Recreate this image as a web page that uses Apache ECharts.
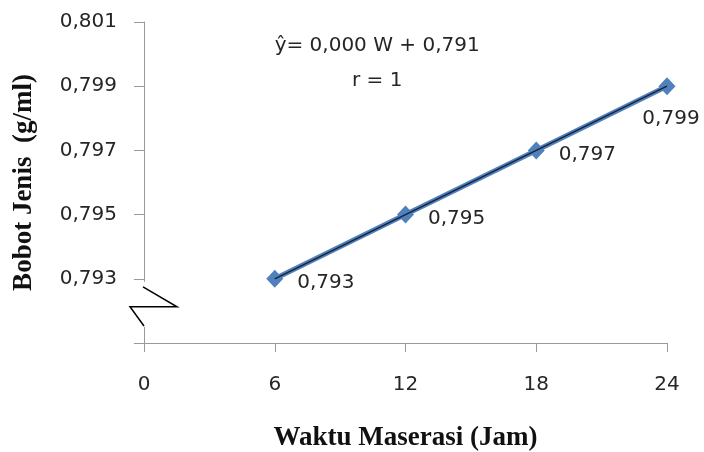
<!DOCTYPE html>
<html>
<head>
  <meta charset="utf-8">
  <title>Bobot Jenis vs Waktu Maserasi</title>
  <style type="text/css">
    html, body { margin: 0; padding: 0; background: #fff; }
    #main { width: 704px; height: 452px; }
  </style>
</head>
<body>
<div id="main"></div>
<script type="text/javascript" src="https://cdn.jsdelivr.net/npm/echarts@6/dist/echarts.min.js"></script>
<script type="text/javascript">
  // data
  var waktu = [6, 12, 18, 24];
  var bobot = [0.793, 0.795, 0.797, 0.799];
  var xTicks = [0, 6, 12, 18, 24];
  var yTicks = [0.791, 0.793, 0.795, 0.797, 0.799, 0.801];
  var yLabels = [0.793, 0.795, 0.797, 0.799, 0.801];
  var equation = ['\u0177= 0,000 W + 0,791', 'r = 1'];

  var fontSans = 'DejaVu Sans';
  var fontSerif = 'Liberation Serif';
  var textColor = '#262626';
  var axisColor = '#999';

  function koma(v) {
    return v.toFixed(3).replace('.', ',');
  }

  var points = waktu.map(function (w, i) {
    var last = i === waktu.length - 1;
    return {
      value: [w, bobot[i]],
      label: last
        ? { position: 'bottom', distance: 14, offset: [4, 0] }
        : { position: 'right', distance: 14, offset: [0, 4] }
    };
  });

  var myChart = echarts.init(document.getElementById('main'));

  var option = {
    animation: false,
    backgroundColor: '#fff',
    grid: { left: 144, right: 37, top: 22, bottom: 109, containLabel: false, outerBoundsMode: 'none' },
    xAxis: {
      type: 'value',
      min: xTicks[0],
      max: xTicks[xTicks.length - 1],
      interval: 6,
      name: 'Waktu Maserasi (Jam)',
      nameLocation: 'middle',
      nameGap: 82,
      nameTextStyle: { fontFamily: fontSerif, fontWeight: 'bold', fontSize: 27, color: '#111' },
      axisLine: { lineStyle: { color: axisColor, width: 1 } },
      axisTick: { inside: false, length: 9, lineStyle: { color: axisColor } },
      axisLabel: { fontFamily: fontSans, fontSize: 20, color: textColor, margin: 32 },
      splitLine: { show: false }
    },
    yAxis: {
      type: 'value',
      min: yTicks[0],
      max: yTicks[yTicks.length - 1],
      name: 'Bobot Jenis  (g/ml)',
      nameLocation: 'middle',
      nameGap: 106,
      nameTextStyle: { fontFamily: fontSerif, fontWeight: 'bold', fontSize: 27, color: '#111' },
      axisLine: { show: true, lineStyle: { color: axisColor, width: 1 } },
      axisTick: { show: true, length: 10, customValues: yTicks, lineStyle: { color: axisColor } },
      axisLabel: {
        fontFamily: fontSans, fontSize: 20, color: textColor, margin: 27,
        customValues: yLabels,
        formatter: function (v) { return koma(v); }
      },
      splitLine: { show: false }
    },
    series: [
      {
        name: 'Bobot Jenis',
        type: 'line',
        data: points,
        symbol: 'diamond',
        symbolSize: [17, 18],
        lineStyle: { color: '#4f81bd', width: 5 },
        itemStyle: { color: '#4f81bd' },
        label: {
          show: true,
          fontFamily: fontSans,
          fontSize: 20,
          color: textColor,
          formatter: function (p) { return koma(p.value[1]); }
        },
        z: 2
      },
      {
        name: 'Trendline',
        type: 'line',
        data: waktu.map(function (w, i) { return [w, bobot[i]]; }),
        symbol: 'none',
        lineStyle: { color: '#1b2238', width: 1.5 },
        silent: true,
        z: 3
      }
    ]
  };

  myChart.setOption(option);

  // equation box and the axis break mark
  var x0 = myChart.convertToPixel({ xAxisIndex: 0 }, 0);
  var yA = myChart.convertToPixel({ yAxisIndex: 0 }, 0.793);
  var yB = myChart.convertToPixel({ yAxisIndex: 0 }, 0.791);
  var xEq = myChart.convertToPixel({ xAxisIndex: 0 }, 10.7);

  myChart.setOption({
    graphic: [
      {
        type: 'rect',
        shape: { x: x0 - 3, y: yA + 3, width: 6, height: (yB - 16) - (yA + 3) },
        style: { fill: '#fff' },
        z: 50
      },
      {
        type: 'polyline',
        shape: { points: [[x0 - 1, yA + 8], [x0 + 33, yA + 28], [x0 - 14, yA + 28], [x0, yB - 17]] },
        style: { stroke: '#000', lineWidth: 1.5, fill: null },
        z: 51
      },
      {
        type: 'text',
        x: xEq, y: 46,
        style: { text: equation[0], font: '20px "' + fontSans + '"', fill: textColor, align: 'center', verticalAlign: 'middle' },
        z: 60
      },
      {
        type: 'text',
        x: xEq, y: 81,
        style: { text: equation[1], font: '20px "' + fontSans + '"', fill: textColor, align: 'center', verticalAlign: 'middle' },
        z: 60
      }
    ]
  });
</script>
</body>
</html>
